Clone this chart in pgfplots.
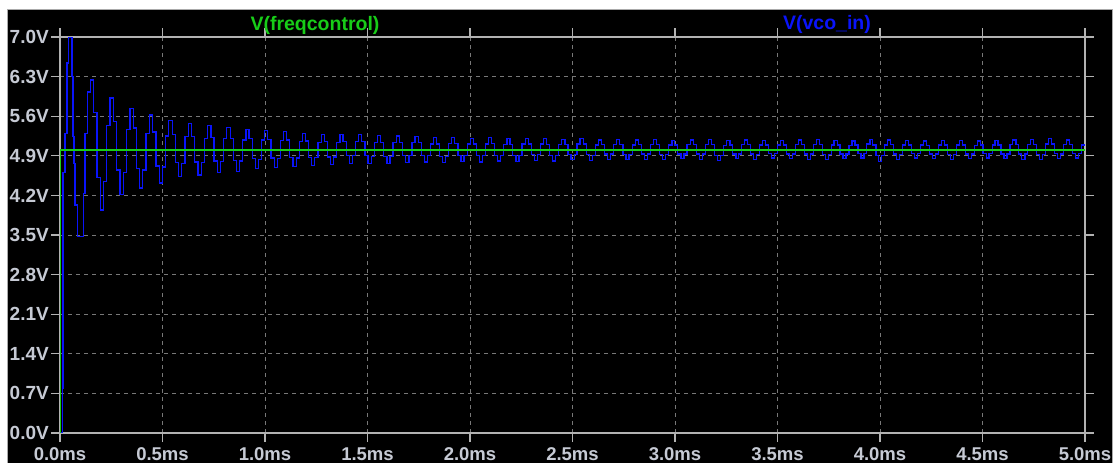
\documentclass[border=0pt]{standalone}
\usepackage{pgfplots}
\pgfplotsset{compat=1.18}
\usepackage{fontspec}
\setmainfont{Liberation Sans}

\definecolor{tracegreen}{RGB}{24,205,24}
\definecolor{traceblue}{RGB}{10,20,250}
\definecolor{labelgray}{RGB}{198,202,212}
\definecolor{axisgray}{RGB}{178,178,178}
\definecolor{gridgray}{RGB}{120,120,120}
\definecolor{framegray}{RGB}{170,170,170}

\begin{document}
\begin{tikzpicture}
\useasboundingbox (0bp,0bp) rectangle (1115bp,463bp);
\fill[white] (0bp,0bp) rectangle (1115bp,463bp);
\filldraw[fill=black, draw=framegray, line width=1bp] (7bp,-1bp) rectangle (1112bp,453bp);

\begin{axis}[
  at={(60bp,30bp)}, anchor=south west,
  scale only axis, width=1025bp, height=396bp,
  xmin=0, xmax=5, ymin=0, ymax=7,
  xtick={0,0.5,1,1.5,2,2.5,3,3.5,4,4.5,5},
  xticklabels={0.0ms,0.5ms,1.0ms,1.5ms,2.0ms,2.5ms,3.0ms,3.5ms,4.0ms,4.5ms,5.0ms},
  ytick={0,0.7,1.4,2.1,2.8,3.5,4.2,4.9,5.6,6.3,7},
  yticklabels={0.0V,0.7V,1.4V,2.1V,2.8V,3.5V,4.2V,4.9V,5.6V,6.3V,7.0V},
  grid=major,
  major grid style={draw=gridgray, line width=0.9bp, dash pattern=on 4bp off 4bp},
  axis line style={draw=axisgray, line width=1.2bp},
  tick align=outside, major tick length=9bp,
  tick style={draw=axisgray, line width=1.2bp},
  ticklabel style={text=labelgray},
  xticklabel style={anchor=base, yshift=-18bp, font=\bfseries\fontsize{18.5bp}{20bp}\selectfont},
  yticklabel style={anchor=east, inner sep=0pt, xshift=-2bp, font=\bfseries\fontsize{19bp}{20bp}\selectfont},
  clip=true,
]
% V(vco_in): stepped, damped oscillation settling near 5 V
\addplot[traceblue, line width=1.25bp, const plot] coordinates {
(0,0) (0.012,0.78) (0.015,4.6) (0.024,5.3) (0.034,6.54) (0.0405,7.0) (0.058,6.3) (0.063,5.24) (0.068,4.77) (0.073,4.03) (0.087,3.47) (0.113,4.24) (0.122,5.29) (0.134,6.03)
(0.148,6.24) (0.164,5.67) (0.180,4.52) (0.196,3.94) (0.212,4.44) (0.228,5.43)
(0.244,5.92) (0.260,5.50) (0.276,4.65) (0.293,4.22) (0.309,4.60) (0.325,5.36)
(0.341,5.74) (0.357,5.39) (0.373,4.68) (0.389,4.33) (0.404,4.65) (0.420,5.30)
(0.436,5.62) (0.452,5.32) (0.468,4.72) (0.484,4.42) (0.499,4.70) (0.515,5.25)
(0.531,5.53) (0.547,5.28) (0.563,4.78) (0.579,4.53) (0.594,4.77) (0.610,5.24)
(0.626,5.47) (0.642,5.24) (0.657,4.79) (0.673,4.56) (0.689,4.78) (0.705,5.21)
(0.720,5.43) (0.736,5.22) (0.751,4.81) (0.767,4.60) (0.783,4.80) (0.799,5.20)
(0.814,5.40) (0.830,5.21) (0.845,4.82) (0.861,4.62) (0.876,4.81) (0.891,5.18)
(0.907,5.37) (0.922,5.20) (0.938,4.85) (0.953,4.67) (0.968,4.84) (0.983,5.18)
(0.999,5.35) (1.014,5.19) (1.029,4.86) (1.045,4.69) (1.060,4.85) (1.075,5.17)
(1.090,5.33) (1.106,5.18) (1.121,4.87) (1.136,4.71) (1.152,4.86) (1.167,5.15)
(1.182,5.30) (1.197,5.16) (1.213,4.87) (1.228,4.73) (1.243,4.87) (1.259,5.14)
(1.274,5.28) (1.289,5.15) (1.304,4.88) (1.320,4.75) (1.335,4.88) (1.350,5.14)
(1.366,5.27) (1.381,5.15) (1.396,4.90) (1.411,4.77) (1.427,4.90) (1.442,5.15)
(1.457,5.27) (1.472,5.15) (1.488,4.90) (1.503,4.77) (1.518,4.89) (1.534,5.14)
(1.549,5.26) (1.564,5.14) (1.579,4.89) (1.595,4.77) (1.610,4.89) (1.625,5.13)
(1.641,5.25) (1.656,5.13) (1.671,4.90) (1.686,4.78) (1.702,4.90) (1.717,5.13)
(1.732,5.24) (1.747,5.13) (1.762,4.90) (1.777,4.79) (1.792,4.90) (1.807,5.11)
(1.822,5.22) (1.837,5.11) (1.852,4.89) (1.867,4.78) (1.882,4.89) (1.896,5.12)
(1.911,5.23) (1.926,5.12) (1.941,4.91) (1.956,4.80) (1.971,4.90) (1.986,5.11)
(2.001,5.21) (2.016,5.11) (2.031,4.90) (2.046,4.79) (2.060,4.90) (2.075,5.11)
(2.090,5.22) (2.105,5.12) (2.120,4.91) (2.135,4.81) (2.150,4.91) (2.165,5.10)
(2.180,5.20) (2.195,5.10) (2.209,4.90) (2.224,4.80) (2.239,4.90) (2.254,5.11)
(2.269,5.21) (2.284,5.11) (2.299,4.92) (2.314,4.82) (2.329,4.92) (2.344,5.11)
(2.358,5.20) (2.373,5.10) (2.388,4.91) (2.403,4.81) (2.418,4.91) (2.433,5.10)
(2.448,5.19) (2.463,5.10) (2.478,4.92) (2.493,4.83) (2.508,4.92) (2.522,5.11)
(2.537,5.20) (2.552,5.11) (2.567,4.92) (2.582,4.82) (2.597,4.91) (2.612,5.09)
(2.627,5.18) (2.642,5.10) (2.657,4.93) (2.672,4.84) (2.686,4.93) (2.701,5.10)
(2.716,5.19) (2.731,5.10) (2.746,4.92) (2.761,4.83) (2.776,4.92) (2.791,5.09)
(2.806,5.18) (2.821,5.10) (2.836,4.93) (2.850,4.84) (2.865,4.93) (2.880,5.10)
(2.895,5.19) (2.910,5.10) (2.925,4.92) (2.940,4.83) (2.955,4.92) (2.970,5.09)
(2.985,5.17) (2.999,5.09) (3.014,4.93) (3.029,4.85) (3.044,4.93) (3.059,5.10)
(3.074,5.18) (3.089,5.10) (3.104,4.93) (3.119,4.84) (3.134,4.93) (3.149,5.10)
(3.163,5.19) (3.178,5.10) (3.193,4.91) (3.208,4.82) (3.223,4.91) (3.238,5.08)
(3.253,5.17) (3.268,5.09) (3.282,4.93) (3.297,4.85) (3.311,4.93) (3.326,5.10)
(3.340,5.18) (3.355,5.10) (3.369,4.93) (3.384,4.84) (3.398,4.92) (3.413,5.09)
(3.427,5.17) (3.442,5.09) (3.456,4.94) (3.471,4.86) (3.486,4.94) (3.500,5.09)
(3.515,5.17) (3.529,5.09) (3.544,4.93) (3.558,4.85) (3.573,4.93) (3.587,5.10)
(3.602,5.18) (3.616,5.10) (3.631,4.93) (3.645,4.84) (3.660,4.93) (3.675,5.10)
(3.689,5.19) (3.704,5.10) (3.718,4.92) (3.733,4.83) (3.747,4.92) (3.762,5.09)
(3.776,5.17) (3.791,5.09) (3.805,4.93) (3.820,4.85) (3.834,4.93) (3.849,5.08)
(3.863,5.16) (3.878,5.09) (3.893,4.94) (3.907,4.86) (3.922,4.94) (3.936,5.11)
(3.951,5.19) (3.965,5.09) (3.980,4.90) (3.994,4.80) (4.009,4.90) (4.023,5.09)
(4.038,5.18) (4.053,5.10) (4.067,4.93) (4.082,4.84) (4.096,4.92) (4.111,5.09)
(4.125,5.17) (4.140,5.09) (4.154,4.94) (4.169,4.86) (4.183,4.94) (4.198,5.09)
(4.212,5.16) (4.227,5.08) (4.241,4.93) (4.256,4.85) (4.271,4.93) (4.285,5.09)
(4.300,5.17) (4.314,5.09) (4.329,4.92) (4.343,4.84) (4.358,4.92) (4.372,5.09)
(4.387,5.17) (4.401,5.09) (4.416,4.93) (4.430,4.85) (4.445,4.93) (4.460,5.08)
(4.474,5.16) (4.489,5.09) (4.503,4.94) (4.518,4.86) (4.532,4.94) (4.547,5.09)
(4.561,5.17) (4.576,5.09) (4.590,4.93) (4.605,4.85) (4.619,4.93) (4.634,5.10)
(4.648,5.18) (4.663,5.10) (4.677,4.93) (4.692,4.84) (4.707,4.93) (4.721,5.10)
(4.736,5.19) (4.750,5.10) (4.765,4.92) (4.779,4.83) (4.794,4.92) (4.808,5.11)
(4.823,5.20) (4.837,5.11) (4.852,4.94) (4.866,4.85) (4.881,4.93) (4.896,5.10)
(4.910,5.18) (4.925,5.10) (4.939,4.94) (4.954,4.86) (4.968,4.94) (4.983,5.09)
(5.0,5.09)
};
% V(freqcontrol): steps to 5 V at t = 0
\addplot[tracegreen, line width=1.8bp] coordinates {(0,0) (0,5.0) (5,5.0)};
\end{axis}

\node[anchor=base, text=tracegreen, font=\bfseries\fontsize{19.5bp}{21bp}\selectfont] at (315bp,432bp) {V(freqcontrol)};
\node[anchor=base, text=traceblue, font=\bfseries\fontsize{19.5bp}{21bp}\selectfont] at (827bp,433bp) {V(vco\_in)};
\end{tikzpicture}
\end{document}
